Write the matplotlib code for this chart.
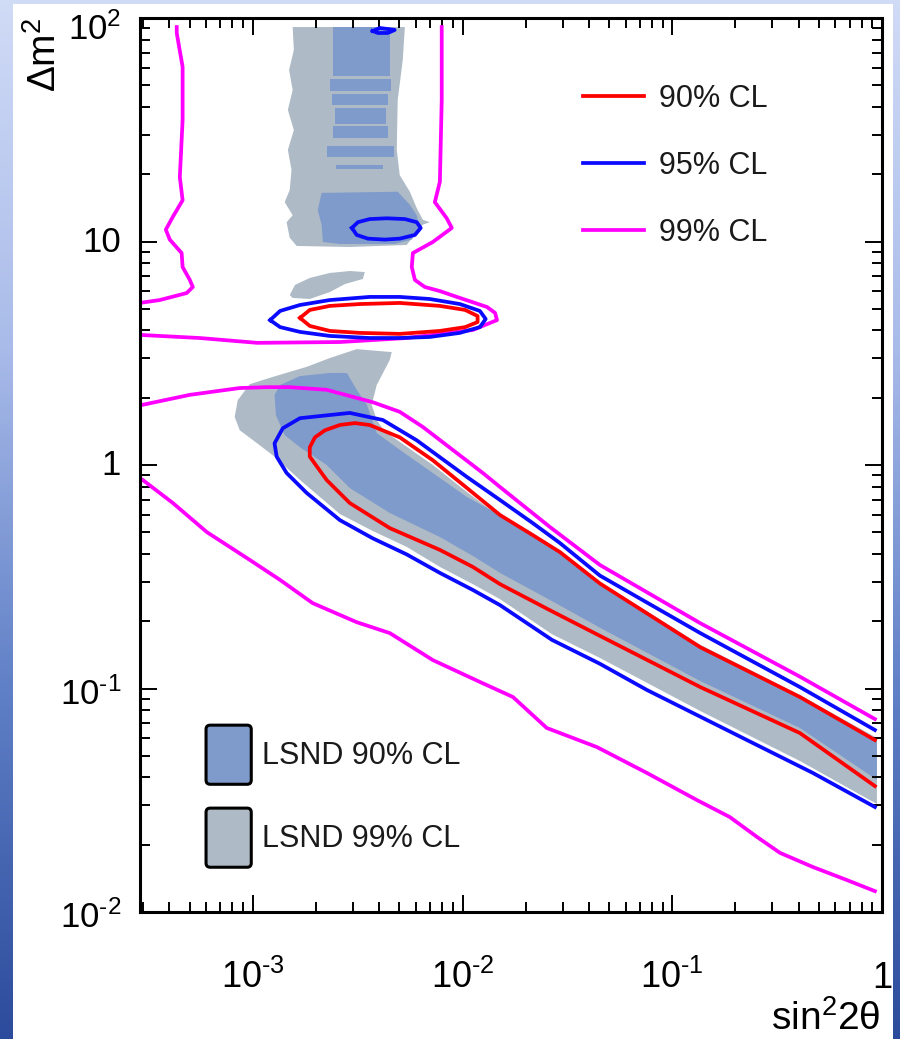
import matplotlib
matplotlib.use('Agg')
import matplotlib.pyplot as plt
import numpy as np
from matplotlib.patches import Patch, Rectangle, FancyBboxPatch
from matplotlib.lines import Line2D
from matplotlib.legend_handler import HandlerPatch
from matplotlib.colors import LinearSegmentedColormap

plt.rcParams['font.family'] = ['Liberation Sans', 'DejaVu Sans']
plt.rcParams['mathtext.fontset'] = 'custom'
plt.rcParams['mathtext.rm'] = 'Liberation Sans'
plt.rcParams['mathtext.it'] = 'Liberation Sans'
plt.rcParams['mathtext.bf'] = 'Liberation Sans:bold'

# ---- 99% CL contour (magenta), four open pieces ----
mag_a_x = [4.34e-4, 4.34e-4, 4.63e-4, 4.63e-4, 4.49e-4, 4.63e-4, 4.16e-4, 3.85e-4, 4.02e-4,
           4.58e-4, 4.63e-4, 5.01e-4, 5.18e-4, 4.84e-4, 3.60e-4, 2.89e-4]
mag_a_y = [91.1, 85.7, 60.4, 35.0, 19.4, 15.3, 12.9, 11.3, 10.2, 8.88, 7.69, 6.73, 6.26, 5.88, 5.47, 5.31]

mag_b_x = [2.89e-4, 5.58e-4, 1.05e-3, 2.60e-3, 5.42e-3, 1.12e-2, 1.46e-2, 1.43e-2, 1.31e-2, 9.40e-3, 7.80e-3,
           6.61e-3, 5.93e-3, 5.73e-3, 5.80e-3, 7.22e-3, 8.89e-3, 8.41e-3, 7.38e-3, 7.80e-3, 7.96e-3, 7.96e-3]
mag_b_y = [3.82, 3.70, 3.52, 3.55, 3.70, 4.02, 4.45, 4.79, 5.09, 5.65, 6.00,
           6.26, 6.73, 7.69, 8.88, 9.95, 11.5, 12.7, 15.0, 18.5, 43.0, 91.1]

mag_c_x = [2.99e-4, 5.01e-4, 8.67e-4, 1.17e-3, 1.50e-3, 2.25e-3, 3.73e-3, 5.02e-3, 6.47e-3,
           1.25e-2, 1.51e-2, 2.61e-2, 4.52e-2, 0.136, 0.406, 0.925]
mag_c_y = [1.86, 2.06, 2.21, 2.23, 2.23, 2.17, 1.91, 1.73, 1.48, 0.921, 0.797, 0.528, 0.357, 0.196, 0.113, 0.073]

mag_d_x = [2.99e-4, 4.16e-4, 6.04e-4, 9.68e-4, 1.35e-3, 1.93e-3, 3.13e-3, 4.50e-3, 7.22e-3, 1.21e-2, 1.74e-2,
           2.52e-2, 4.37e-2, 7.57e-2, 0.131, 0.188, 0.253, 0.326, 0.468, 0.680, 0.925]
mag_d_y = [0.857, 0.676, 0.501, 0.376, 0.306, 0.241, 0.198, 0.177, 0.134, 0.107, 0.0916,
           0.0666, 0.0547, 0.0419, 0.0317, 0.0266, 0.0217, 0.0184, 0.0159, 0.0139, 0.0124]

# ---- 95% CL contour (blue) ----
blue_blob_x = [3.73e-3, 4.04e-3, 4.40e-3, 4.75e-3, 4.40e-3, 3.95e-3, 3.73e-3]
blue_blob_y = [87.5, 90.2, 89.3, 88.4, 85.7, 85.7, 87.5]

blue_e1_x = [2.97e-3, 3.17e-3, 3.61e-3, 4.36e-3, 5.31e-3, 6.05e-3, 6.32e-3, 5.93e-3, 5.02e-3, 4.26e-3,
             3.54e-3, 3.13e-3, 2.97e-3]
blue_e1_y = [11.5, 12.2, 12.6, 12.7, 12.6, 12.2, 11.5, 10.7, 10.3, 10.2, 10.3, 10.7, 11.5]

blue_e2_x = [1.21e-3, 1.35e-3, 1.68e-3, 2.33e-3, 3.61e-3, 5.02e-3, 6.98e-3, 9.71e-3, 1.21e-2, 1.29e-2,
             1.21e-2, 9.71e-3, 6.98e-3, 5.02e-3, 3.61e-3, 2.33e-3, 1.68e-3, 1.35e-3, 1.21e-3]
blue_e2_y = [4.45, 4.89, 5.20, 5.47, 5.65, 5.65, 5.53, 5.25, 4.89, 4.50,
             4.14, 3.90, 3.74, 3.70, 3.70, 3.78, 3.94, 4.14, 4.45]

blue_main_x = [0.925, 0.406, 0.136, 4.52e-2, 2.91e-2, 2.16e-2, 1.51e-2, 1.05e-2, 6.05e-3, 4.17e-3,
               2.90e-3, 1.68e-3, 1.39e-3, 1.27e-3, 1.30e-3, 1.45e-3, 1.81e-3, 2.60e-3, 3.73e-3, 5.42e-3,
               7.80e-3, 1.12e-2, 1.51e-2, 2.67e-2, 4.52e-2, 7.57e-2, 0.227, 0.468, 0.925]
blue_main_y = [0.0652, 0.1015, 0.177, 0.320, 0.448, 0.550, 0.697, 0.884, 1.29, 1.59,
               1.71, 1.62, 1.46, 1.25, 1.09, 0.921, 0.749, 0.567, 0.470, 0.398,
               0.329, 0.276, 0.236, 0.165, 0.129, 0.0985, 0.0588, 0.0419, 0.0295]

# ---- 90% CL contour (red) ----
red_e_x = [1.68e-3, 1.87e-3, 2.33e-3, 3.24e-3, 5.02e-3, 7.80e-3, 1.03e-2, 1.18e-2, 1.18e-2, 1.03e-2,
           7.80e-3, 5.02e-3, 3.24e-3, 2.33e-3, 1.87e-3, 1.68e-3]
red_e_y = [4.55, 4.94, 5.15, 5.25, 5.31, 5.15, 4.94, 4.64, 4.36, 4.14, 3.98, 3.86, 3.90, 3.98, 4.19, 4.55]

red_main_x = [0.925, 0.406, 0.136, 4.52e-2, 2.91e-2, 2.16e-2, 1.51e-2, 1.05e-2, 7.22e-3, 5.02e-3,
              3.61e-3, 3.07e-3, 2.60e-3, 2.21e-3, 1.98e-3, 1.87e-3, 1.87e-3, 2.25e-3, 2.90e-3, 4.50e-3,
              7.80e-3, 1.12e-2, 1.51e-2, 2.61e-2, 4.52e-2, 0.136, 0.406, 0.925]
red_main_y = [0.0588, 0.0916, 0.153, 0.295, 0.408, 0.486, 0.597, 0.789, 1.05, 1.33,
              1.51, 1.54, 1.51, 1.43, 1.33, 1.20, 1.09, 0.857, 0.676, 0.522,
              0.417, 0.350, 0.293, 0.224, 0.172, 0.1015, 0.0632, 0.0366]

# ---- LSND 99% CL region (grey) ----
lsnd99_main_x = [4.60e-3, 3.13e-3, 2.33e-3, 1.81e-3, 1.25e-3, 9.68e-4, 8.48e-4, 8.20e-4, 8.67e-4, 1.05e-3,
                 1.27e-3, 1.68e-3, 2.60e-3, 3.73e-3, 5.42e-3, 7.80e-3, 1.12e-2, 1.51e-2, 2.67e-2, 4.52e-2,
                 0.136, 0.406, 0.946, 0.946, 0.406, 0.136, 4.52e-2, 2.16e-2, 1.51e-2, 1.05e-2,
                 7.22e-3, 5.02e-3, 4.26e-3, 3.90e-3, 3.69e-3, 3.90e-3, 4.50e-3]
lsnd99_main_y = [3.20, 3.30, 3.01, 2.75, 2.48, 2.30, 1.95, 1.64, 1.43, 1.25,
                 1.09, 0.857, 0.604, 0.507, 0.430, 0.350, 0.293, 0.251, 0.175, 0.137,
                 0.0793, 0.0474, 0.0304, 0.0601, 0.0935, 0.157, 0.300, 0.486, 0.585, 0.757,
                 1.00, 1.27, 1.41, 1.59, 1.86, 2.28, 2.95]

lsnd99_top_x = [1.55e-3, 5.31e-3, 5.19e-3, 4.91e-3, 4.86e-3, 5.02e-3, 5.61e-3, 6.05e-3, 6.47e-3, 6.98e-3,
                6.47e-3, 6.05e-3, 5.42e-3, 2.90e-3, 1.62e-3, 1.50e-3, 1.45e-3, 1.55e-3, 1.42e-3, 1.50e-3,
                1.53e-3, 1.47e-3, 1.57e-3, 1.47e-3, 1.55e-3, 1.49e-3, 1.57e-3]
lsnd99_top_y = [91.1, 91.1, 64.9, 43.0, 25.7, 19.8, 16.7, 14.1, 12.5, 12.2,
                11.9, 11.0, 9.65, 9.45, 9.55, 10.4, 12.2, 13.1, 15.0, 17.0,
                20.9, 25.7, 31.5, 38.8, 47.6, 58.5, 71.9]

lsnd99_blob_x = [1.50e-3, 1.59e-3, 1.87e-3, 2.33e-3, 2.90e-3, 3.42e-3, 3.35e-3, 2.75e-3, 2.33e-3, 1.87e-3, 1.55e-3]
lsnd99_blob_y = [5.76, 6.39, 6.87, 7.23, 7.38, 7.30, 6.80, 6.45, 5.94, 5.53, 5.59]

# ---- LSND 90% CL region (blue fill) ----
lsnd90_main_x = [1.35e-3, 1.68e-3, 2.33e-3, 2.81e-3, 3.13e-3, 3.50e-3, 3.90e-3, 5.02e-3, 7.22e-3, 1.05e-2,
                 1.51e-2, 2.16e-2, 4.52e-2, 0.136, 0.406, 0.946, 0.946, 0.406, 0.136, 4.52e-2,
                 2.61e-2, 1.51e-2, 1.12e-2, 7.80e-3, 4.50e-3, 2.90e-3, 2.25e-3, 1.91e-3, 1.68e-3, 1.42e-3,
                 1.29e-3, 1.27e-3]
lsnd90_main_y = [2.28, 2.50, 2.58, 2.58, 2.17, 1.86, 1.39, 1.17, 0.921, 0.719,
                 0.597, 0.496, 0.295, 0.153, 0.0916, 0.0588, 0.0390, 0.0666, 0.108, 0.187,
                 0.249, 0.329, 0.392, 0.476, 0.610, 0.789, 1.00, 1.11, 1.20, 1.36,
                 1.67, 2.06]

lsnd90_low_x = [2.13e-3, 4.91e-3, 5.61e-3, 6.05e-3, 6.25e-3, 5.73e-3, 4.75e-3, 2.60e-3, 2.16e-3, 2.13e-3, 2.04e-3]
lsnd90_low_y = [16.5, 16.7, 14.6, 13.1, 11.5, 10.2, 9.75, 9.75, 9.95, 11.9, 13.8]

# horizontal streaks of the 90% region at high dm2
stripe_xl = [2.41e-3, 2.33e-3, 2.38e-3, 2.46e-3, 2.41e-3, 2.25e-3, 2.50e-3]
stripe_xr = [4.50e-3, 4.55e-3, 4.40e-3, 4.30e-3, 4.40e-3, 4.70e-3, 4.20e-3]
stripe_top = [91.1, 53.5, 45.5, 39.5, 33.0, 26.8, 22.0]
stripe_bot = [55.0, 47.0, 41.0, 33.5, 29.0, 24.0, 21.0]

x_ticks = [1e-3, 1e-2, 1e-1, 1]
x_labels = [r'$\mathregular{10^{\text{-}3}}$', r'$\mathregular{10^{\text{-}2}}$', r'$\mathregular{10^{\text{-}1}}$', '1']
y_ticks = [1e-2, 1e-1, 1, 10, 100]
y_labels = [r'$\mathregular{10^{\text{-}2}}$', r'$\mathregular{10^{\text{-}1}}$', '1', '10', r'$\mathregular{10^{2}}$']
y_label_dy = [-11.5, -12, -7.2, -7.2, -15.5]   # baseline offsets in points

c90 = '#7f9bcb'
c99 = '#aebbc6'
red = '#ff0000'
blue = '#0a0aff'
magenta = '#ff00ff'

fig = plt.figure(figsize=(9, 10.39), dpi=100)

# slide background
bg = fig.add_axes([0, 0, 1, 1], zorder=-10)
grad = np.linspace(0, 1, 256).reshape(-1, 1)
cmap = LinearSegmentedColormap.from_list('slide', ['#d0dbf6', '#a9bbe9', '#5f7fc6', '#2c4b9c'])
bg.imshow(grad, aspect='auto', cmap=cmap, extent=[0, 1, 0, 1])
bg.add_patch(Rectangle((13 / 900, 0), 880 / 900, 1035 / 1039, facecolor='white', edgecolor='none',
                       transform=bg.transAxes))
bg.set_axis_off()

ax = fig.add_axes([140 / 900, 127 / 1039, 742 / 900, 894 / 1039])
ax.set_xscale('log')
ax.set_yscale('log')
ax.set_xlim(2.9e-4, 1)
ax.set_ylim(1e-2, 1e2)

# LSND regions
ax.fill(lsnd99_main_x, lsnd99_main_y, color=c99, lw=0)
ax.fill(lsnd99_top_x, lsnd99_top_y, color=c99, lw=0)
ax.fill(lsnd99_blob_x, lsnd99_blob_y, color=c99, lw=0)
ax.fill(lsnd90_main_x, lsnd90_main_y, color=c90, lw=0)
ax.fill(lsnd90_low_x, lsnd90_low_y, color=c90, lw=0)
for xl, xr, yt, yb in zip(stripe_xl, stripe_xr, stripe_top, stripe_bot):
    ax.fill_between([xl, xr], [yb, yb], [yt, yt], color=c90, lw=0)

# contours
lw = 2.7
for xs, ys in [(mag_a_x, mag_a_y), (mag_b_x, mag_b_y), (mag_c_x, mag_c_y), (mag_d_x, mag_d_y)]:
    ax.plot(xs, ys, color=magenta, lw=lw)
for xs, ys in [(blue_blob_x, blue_blob_y), (blue_e1_x, blue_e1_y), (blue_e2_x, blue_e2_y),
               (blue_main_x, blue_main_y)]:
    ax.plot(xs, ys, color=blue, lw=lw)
for xs, ys in [(red_e_x, red_e_y), (red_main_x, red_main_y)]:
    ax.plot(xs, ys, color=red, lw=lw)

# axes styling
for s in ax.spines.values():
    s.set_linewidth(2.2)
ax.tick_params(which='both', direction='in', top=True, right=True, width=1.4,
               labelbottom=False, labelleft=False)
ax.tick_params(which='major', length=12.5)
ax.tick_params(which='minor', length=7)
ax.set_xticks(x_ticks)
ax.set_yticks(y_ticks)

for v, lab in zip(x_ticks, x_labels):
    ax.annotate(lab, xy=(v, 0), xycoords=('data', 'axes fraction'), xytext=(0, -55),
                textcoords='offset points', ha='center', va='baseline', fontsize=26)
for v, lab, dy in zip(y_ticks, y_labels, y_label_dy):
    ax.annotate(lab, xy=(0, v), xycoords=('axes fraction', 'data'), xytext=(-13.5, dy),
                textcoords='offset points', ha='right', va='baseline', fontsize=25)

fig.text(45 / 900, 1 - 55 / 1039, r'Δm$^\mathregular{2}$', rotation=90, ha='center', va='center', fontsize=28)
fig.text(880 / 900, 1 - 1030 / 1039, r'sin$^\mathregular{2}$2θ', ha='right', va='baseline', fontsize=28)


def rounded_box(legend, orig_handle, xdescent, ydescent, width, height, fontsize):
    return FancyBboxPatch((-xdescent, -ydescent), width, height, boxstyle='round,pad=0,rounding_size=3')


# legends
h1 = [Line2D([], [], color=red, lw=lw), Line2D([], [], color=blue, lw=lw), Line2D([], [], color=magenta, lw=lw)]
leg1 = ax.legend(h1, ['90% CL', '95% CL', '99% CL'], loc='upper left', bbox_to_anchor=(0.597, 0.9266),
                 frameon=False, fontsize=22, handlelength=2.0, handletextpad=0.5, labelspacing=1.21,
                 borderpad=0, borderaxespad=0, labelcolor='#1a1a1a')
ax.add_artist(leg1)
h2 = [Patch(facecolor=c90, edgecolor='black', lw=2.2), Patch(facecolor=c99, edgecolor='black', lw=2.2)]
ax.legend(h2, ['LSND 90% CL', 'LSND 99% CL'], loc='upper left', bbox_to_anchor=(0.089, 0.209),
          frameon=False, fontsize=22, handlelength=1.48, handleheight=2.6, handletextpad=0.36,
          labelspacing=0.78, borderpad=0, borderaxespad=0, labelcolor='#1a1a1a',
          handler_map={Patch: HandlerPatch(patch_func=rounded_box)})

fig.savefig('out.png', dpi=100)
